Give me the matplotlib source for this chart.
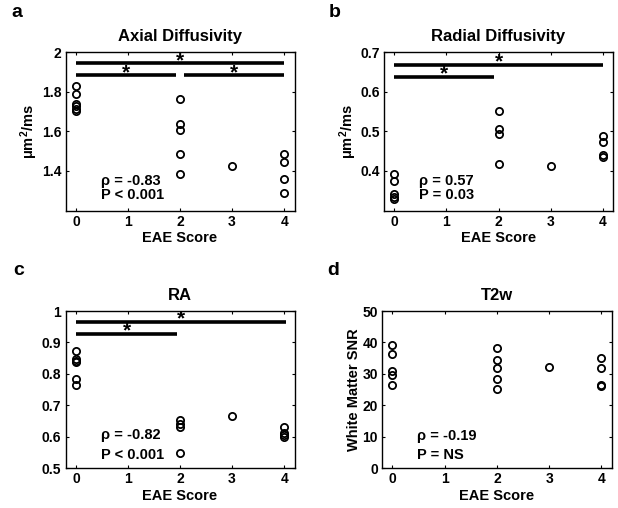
import matplotlib
matplotlib.use("Agg")
import matplotlib.pyplot as plt

plt.rcParams['font.family'] = ['Liberation Sans', 'DejaVu Sans']
plt.rcParams['font.weight'] = 'bold'
plt.rcParams['mathtext.fontset'] = 'custom'
plt.rcParams['mathtext.rm'] = 'Liberation Sans:bold'
plt.rcParams['mathtext.bf'] = 'Liberation Sans:bold'
plt.rcParams['mathtext.it'] = 'Liberation Sans'

ad_x = [0, 0, 0, 0, 0, 0, 2, 2, 2, 2, 2, 3, 4, 4, 4, 4]
ad_y = [1.83, 1.79, 1.74, 1.73, 1.71, 1.70, 1.762, 1.639, 1.605, 1.487, 1.382, 1.424, 1.487, 1.445, 1.357, 1.288]

rd_x = [0, 0, 0, 0, 0, 2, 2, 2, 2, 3, 4, 4, 4, 4]
rd_y = [0.392, 0.374, 0.341, 0.335, 0.328, 0.551, 0.506, 0.492, 0.417, 0.413, 0.487, 0.474, 0.439, 0.436]

ra_x = [0, 0, 0, 0, 0, 0, 2, 2, 2, 2, 3, 4, 4, 4, 4]
ra_y = [0.874, 0.847, 0.840, 0.837, 0.785, 0.765, 0.654, 0.641, 0.632, 0.549, 0.667, 0.630, 0.611, 0.604, 0.599]

t2_x = [0, 0, 0, 0, 0, 2, 2, 2, 2, 2, 3, 4, 4, 4, 4]
t2_y = [39.3, 36.2, 30.9, 29.6, 26.5, 38.3, 34.5, 31.8, 28.5, 25.3, 32.3, 35.0, 31.8, 26.4, 26.1]

# significance bars: (x start, x end, y level)
ad_bars = [(0, 4, 1.943), (0, 1.93, 1.882), (2.07, 4, 1.882)]
rd_bars = [(0, 4, 0.668), (0, 1.92, 0.637)]
ra_bars = [(0, 4.03, 0.965), (0, 1.95, 0.928)]

panels = [
    dict(letter="a", title="Axial Diffusivity", x=ad_x, y=ad_y, ylim=(1.2, 2.0),
         yticks=[1.4, 1.6, 1.8, 2.0], yticklabels=["1.4", "1.6", "1.8", "2"],
         ylabel="μm$^{2}$/ms", bars=ad_bars, stats=["ρ = -0.83", "P < 0.001"],
         stat_y=[1.35, 1.28], pos=[0.106, 0.5856, 0.3706, 0.312], lpos=(0.019, 0.992)),
    dict(letter="b", title="Radial Diffusivity", x=rd_x, y=rd_y, ylim=(0.3, 0.7),
         yticks=[0.4, 0.5, 0.6, 0.7], yticklabels=["0.4", "0.5", "0.6", "0.7"],
         ylabel="μm$^{2}$/ms", bars=rd_bars, stats=["ρ = 0.57", "P = 0.03"],
         stat_y=[0.374, 0.339], pos=[0.6214, 0.5856, 0.3706, 0.312], lpos=(0.532, 0.992)),
    dict(letter="c", title="RA", x=ra_x, y=ra_y, ylim=(0.5, 1.0),
         yticks=[0.5, 0.6, 0.7, 0.8, 0.9, 1.0], yticklabels=["0.5", "0.6", "0.7", "0.8", "0.9", "1"],
         ylabel=None, bars=ra_bars, stats=["ρ = -0.82", "P < 0.001"],
         stat_y=[0.604, 0.542], pos=[0.106, 0.0787, 0.3706, 0.309], lpos=(0.021, 0.485)),
    dict(letter="d", title="T2w", x=t2_x, y=t2_y, ylim=(0, 50),
         yticks=[0, 10, 20, 30, 40, 50], yticklabels=["0", "10", "20", "30", "40", "50"],
         ylabel="White Matter SNR", bars=[], stats=["ρ = -0.19", "P = NS"],
         stat_y=[10.1, 4.3], pos=[0.618, 0.0787, 0.372, 0.309], lpos=(0.530, 0.485)),
]

fig = plt.figure(figsize=(6.18, 5.08), dpi=100)

for p in panels:
    ax = fig.add_axes(p["pos"])
    ax.plot(p["x"], p["y"], "o", mfc="none", mec="black", ms=5.2, mew=1.3, ls="none")
    for x0, x1, yb in p["bars"]:
        ax.plot([x0, x1], [yb, yb], color="black", lw=2.6, solid_capstyle="butt")
        ax.annotate("*", xy=((x0 + x1) / 2, yb), xytext=(0, 2), textcoords="offset points",
                    ha="center", va="center", fontsize=15, fontweight="bold")
    for s, ys in zip(p["stats"], p["stat_y"]):
        ax.text(0.48, ys, s, ha="left", va="center", fontsize=10.5, fontweight="bold")
    ax.set_xlim(-0.2, 4.2)
    ax.set_ylim(*p["ylim"])
    ax.set_xticks([0, 1, 2, 3, 4])
    ax.set_yticks(p["yticks"])
    ax.set_yticklabels(p["yticklabels"])
    ax.tick_params(direction="in", length=2, width=0.8, top=True, right=True, labelsize=10, pad=3)
    for sp in ax.spines.values():
        sp.set_linewidth(1.0)
    ax.set_xlabel("EAE Score", fontsize=10.5, fontweight="bold", labelpad=2)
    if p["ylabel"]:
        ax.set_ylabel(p["ylabel"], fontsize=10.5, fontweight="bold", labelpad=1)
    ax.set_title(p["title"], fontsize=12, fontweight="bold", pad=8)
    fig.text(p["lpos"][0], p["lpos"][1], p["letter"], fontsize=14, fontweight="bold", va="top")

fig.savefig("out.png", dpi=100)
